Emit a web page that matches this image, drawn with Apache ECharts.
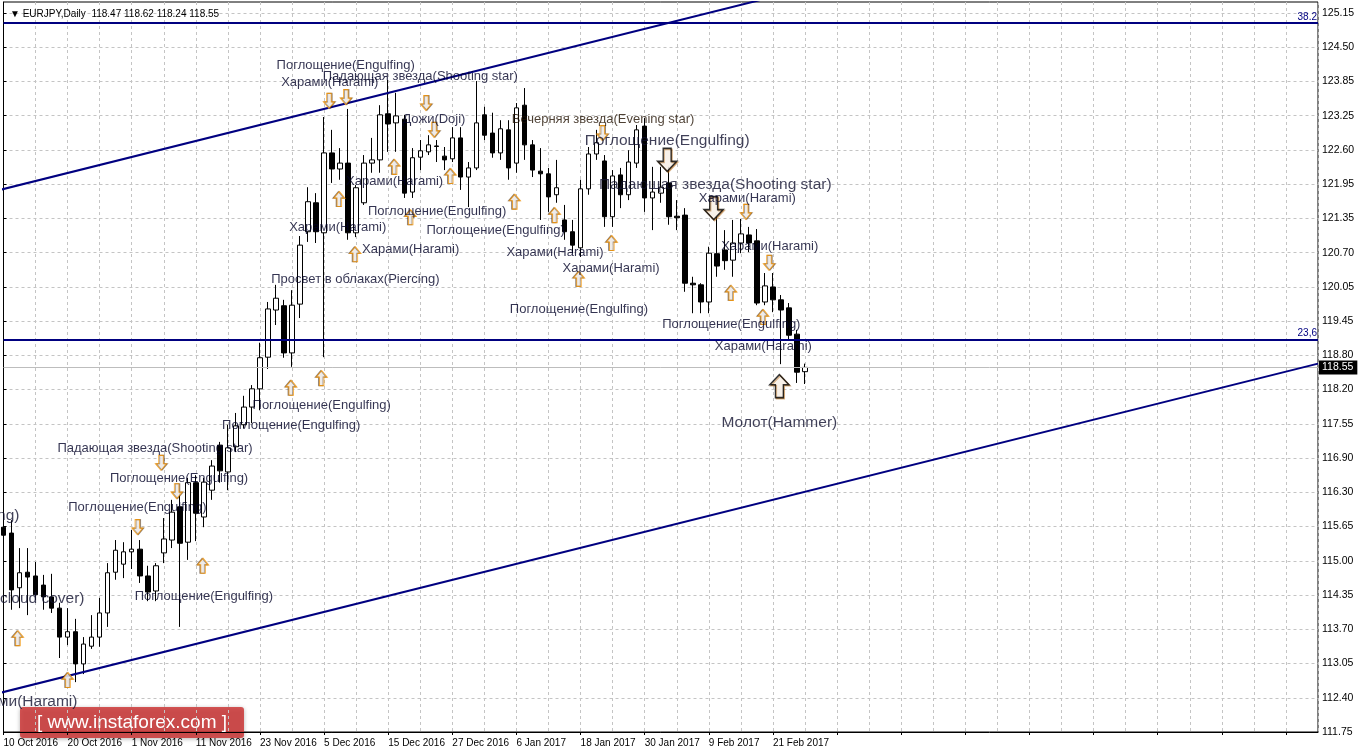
<!DOCTYPE html>
<html><head><meta charset="utf-8">
<script src="https://cdn.jsdelivr.net/npm/echarts@6/dist/echarts.min.js"></script>
<style>html,body{margin:0;padding:0;background:#fff}#c{width:1359px;height:755px}</style>
</head><body><div id="c"></div>
<script>
// ---------- data ----------
const symbolName = 'EURJPY,Daily';
const lastOHLC = ['118.47', '118.62', '118.24', '118.55'];
const dateLabels = ['10 Oct 2016','20 Oct 2016','1 Nov 2016','11 Nov 2016','23 Nov 2016','5 Dec 2016','15 Dec 2016','27 Dec 2016','6 Jan 2017','18 Jan 2017','30 Jan 2017','9 Feb 2017','21 Feb 2017'];
const yTickLabels = ['111.75','112.40','113.05','113.70','114.35','115.00','115.65','116.30','116.90','117.55','118.20','118.80','119.45','120.05','120.70','121.35','121.95','122.60','123.25','123.85','124.50','125.15'];

const opens = [115.57,115.46,114.44,114.73,114.66,114.49,114.27,114.06,113.52,113.62,
113.02,113.35,113.52,113.97,114.73,114.88,115.11,115.16,114.66,114.38,
115.09,115.33,115.95,115.29,116.40,115.76,116.26,117.10,116.60,117.07,
117.48,117.81,118.15,118.74,119.62,119.70,118.82,119.73,121.08,121.62,
121.06,122.55,122.25,122.36,121.06,121.62,122.36,122.42,123.28,123.11,
123.18,121.82,122.47,122.57,122.68,122.49,122.44,122.83,122.10,122.27,
123.26,122.92,122.55,122.98,122.36,123.44,122.70,122.21,122.16,121.77,
121.30,121.08,120.78,121.88,122.53,122.40,121.36,122.14,121.77,122.36,
123.05,121.71,121.80,121.99,121.37,121.39,120.12,120.09,119.77,120.67,
120.74,120.55,120.87,121.02,120.91,119.77,120.05,119.81,119.66,119.17,
118.47];
const closes = [115.42,114.40,114.72,114.64,114.31,114.27,114.06,113.52,113.62,113.02,
113.39,113.52,113.97,114.72,115.14,115.11,115.16,114.66,114.36,114.85,
115.35,115.85,115.27,116.40,115.83,116.41,116.71,116.62,117.05,117.46,
117.81,118.15,118.73,119.64,119.84,118.82,119.71,120.83,121.64,121.08,
122.55,122.25,122.36,121.06,121.90,122.36,122.42,123.26,123.09,123.24,
121.80,122.46,122.59,122.70,122.67,122.42,122.83,122.10,122.27,123.11,
122.88,122.55,123.00,122.27,123.39,122.70,122.23,122.16,121.73,121.90,
121.08,120.83,121.88,122.53,122.74,121.36,122.12,121.77,122.38,122.98,
121.71,121.82,121.91,121.36,121.34,120.12,120.09,119.77,120.68,120.44,
120.54,120.87,121.04,120.87,119.75,120.07,119.81,119.62,119.15,118.46,
118.55];
const lows = [115.09,114.03,114.06,113.93,114.21,114.03,113.97,113.13,113.37,112.68,
112.83,113.30,113.34,113.71,114.59,114.62,114.79,114.53,114.19,114.19,
114.90,115.18,113.71,114.96,115.31,115.57,116.08,116.40,116.26,116.97,
117.42,117.51,117.75,118.52,119.34,118.73,118.56,119.47,120.89,120.87,
118.74,121.99,122.05,120.93,120.98,121.58,122.18,122.18,122.57,122.57,
121.71,121.71,122.23,122.51,122.38,122.23,122.38,121.86,121.54,122.23,
122.79,122.46,122.42,122.05,122.18,122.42,122.10,121.30,121.45,121.62,
120.93,120.68,120.61,121.77,122.42,121.17,121.17,121.52,121.67,122.27,
121.45,121.11,121.62,121.21,121.11,119.96,119.56,119.56,119.56,120.24,
120.37,120.24,120.68,120.70,119.71,119.71,119.58,118.61,119.06,118.26,
118.24];
const highs = [115.74,115.70,115.18,115.18,114.92,114.68,114.70,114.16,114.06,113.86,
113.52,113.93,114.25,114.90,115.33,115.29,115.52,115.33,114.85,114.90,
115.74,116.08,116.21,116.49,116.54,116.49,116.82,117.16,117.48,117.70,
118.02,118.22,119.01,119.77,120.09,119.81,119.99,121.00,121.91,121.80,
123.22,122.98,122.64,123.37,121.95,122.51,122.83,123.44,123.91,123.67,
123.26,122.64,122.79,122.88,122.79,122.66,123.03,123.03,122.38,123.89,
123.41,123.30,123.16,123.16,123.48,123.76,122.79,122.64,122.27,122.42,
121.58,121.30,122.05,122.66,122.98,122.51,122.23,122.27,122.60,123.07,
123.20,122.29,122.29,122.29,121.67,121.52,120.24,120.12,120.80,121.36,
121.11,121.30,121.32,121.17,121.13,120.31,120.31,119.90,119.75,119.25,
118.62];

// trend channel (bar index, price)
const upperChannel = [[-0.44, 121.86], [164, 128.00]];
const lowerChannel = [[-0.44, 112.48], [164, 118.62]];
// horizontal levels
const fibLevels = [['38.2', 124.97], ['23,6', 119.07]];
const lastPrice = 118.55;

// pattern notes: [text, bar, price]
const notesSmall = [
 ['Поглощение(Engulfing)', 42.7, 124.21],
 ['Харами(Harami)', 40.7, 123.91],
 ['Падающая звезда(Shooting star)', 52.0, 124.02],
 ['Дожи(Doji)', 53.7, 123.22],
 ['Харами(Harami)', 48.8, 122.05],
 ['Харами(Harami)', 92.8, 121.73],
 ['Поглощение(Engulfing)', 54.1, 121.50],
 ['Поглощение(Engulfing)', 61.4, 121.15],
 ['Харами(Harami)', 41.7, 121.19],
 ['Харами(Harami)', 50.8, 120.78],
 ['Харами(Harami)', 68.8, 120.74],
 ['Харами(Harami)', 95.6, 120.85],
 ['Харами(Harami)', 75.8, 120.44],
 ['Просвет в облаках(Piercing)', 43.9, 120.22],
 ['Поглощение(Engulfing)', 71.8, 119.66],
 ['Поглощение(Engulfing)', 90.8, 119.38],
 ['Харами(Harami)', 94.8, 118.97],
 ['Поглощение(Engulfing)', 39.7, 117.87],
 ['Поглощение(Engulfing)', 35.9, 117.51],
 ['Падающая звезда(Shooting star)', 18.9, 117.08],
 ['Поглощение(Engulfing)', 21.9, 116.51],
 ['Поглощение(Engulfing)', 16.7, 115.97],
 ['Поглощение(Engulfing)', 25.0, 114.32]
];
const notesEvening = [['Вечерняя звезда(Evening star)', 74.8, 123.22]];
const notesLarge = [
 ['Поглощение(Engulfing)', 82.8, 122.81],
 ['Падающая звезда(Shooting star)', 88.8, 121.99],
 ['Молот(Hammer)', 96.8, 117.55]
];
// notes whose start lies left of the visible window: [text, bar of right end, price]
const notesClipped = [
 ['Поглощение(Engulfing)', 2.06, 115.83],
 ['Завеса из темных облаков(Dark cloud cover)', 10.17, 114.27],
 ['Харами(Harami)', 9.29, 112.35]
];
// arrows: [bar, price]
const arrowsUp = [[1.81,113.50],[8.05,112.72],[24.9,114.85],[35.9,118.17],[39.7,118.35],[41.9,121.69],[43.9,120.66],[48.8,122.29],[50.8,121.35],[55.8,122.12],[63.8,121.64],[68.8,121.39],[71.8,120.20],[75.9,120.87],[90.8,119.94],[94.8,119.49]];
const arrowsDown = [[40.6,123.52],[42.7,123.59],[52.7,123.48],[53.7,122.98],[19.65,116.77],[21.6,116.24],[16.7,115.57],[74.7,122.92],[92.6,121.45],[95.5,120.50]];
const bigArrowsDown = [[82.8,122.42],[88.6,121.52]];
const bigArrowsUp = [[96.8,118.20]];

// ---------- layout ----------
const totalSlots = 165;
const yMin = 111.75, yMax = 125.3645, yStep = 0.63858;
const yTickValues = yTickLabels.map((_, k) => +(yMin + k * yStep).toFixed(5));
const cats = Array.from({length: totalSlots}, (_, i) => String(i));
const candleData = opens.map((o, i) => [o, closes[i], lows[i], highs[i]]);
const navy = '#000080';
const FONT = 'Liberation Sans, Arial, sans-serif';
const arrowPath = 'path://M6,0L12,7L8.5,7L8.5,16L3.5,16L3.5,7L0,7Z';

function noteSeries(list, opts) {
  return {
    type: 'scatter', xAxisIndex: 1, yAxisIndex: 0, silent: true, z: 10,
    symbolSize: 1, itemStyle: {color: 'rgba(0,0,0,0)'},
    data: list.map(n => ({name: n[0], value: [n[1], n[2]]})),
    label: Object.assign({show: true, formatter: '{b}', fontFamily: FONT, offset: [0, 2]}, opts)
  };
}
function arrowSeries(list, size, rot, style) {
  return {
    type: 'scatter', xAxisIndex: 1, yAxisIndex: 0, silent: true, z: 9,
    symbol: arrowPath, symbolSize: size, symbolRotate: rot,
    itemStyle: style, data: list
  };
}

const smallArrowStyle = {color: '#fff', borderColor: '#f39200', borderWidth: 1, shadowColor: 'rgba(60,30,0,0.55)', shadowOffsetX: -1, shadowOffsetY: 0, shadowBlur: 0};
const bigArrowStyle = {color: '#fff', borderColor: '#000', borderWidth: 1.5, shadowColor: 'rgba(170,90,0,0.55)', shadowOffsetX: 1, shadowOffsetY: 1, shadowBlur: 0};

const chart = echarts.init(document.getElementById('c'), null, {renderer: 'canvas'});
chart.setOption({
  animation: false,
  backgroundColor: '#fff',
  title: {
    text: '\u25BC ' + symbolName + '  ' + lastOHLC.join(' '),
    left: 5, top: 4,
    textStyle: {fontSize: 10, fontWeight: 'normal', color: '#000', fontFamily: FONT}
  },
  grid: {left: 3.5, right: 41, top: 2, bottom: 23, show: true, borderColor: '#000', borderWidth: 1, backgroundColor: '#fff'},
  xAxis: [{
    type: 'category', data: cats, boundaryGap: false,
    axisLine: {lineStyle: {color: '#000'}},
    axisTick: {show: true, interval: 7, length: 3, lineStyle: {color: '#000'}},
    axisLabel: {
      interval: 7, align: 'left', margin: 6, color: '#000', fontSize: 10, fontFamily: FONT,
      formatter: (v, idx) => (idx % 8 === 0 && dateLabels[idx / 8]) ? dateLabels[idx / 8] : ''
    },
    splitLine: {show: true, interval: 3, lineStyle: {color: '#c4c4c4', type: [3, 3], width: 1}}
  }, {
    type: 'value', min: 0, max: totalSlots - 1, show: false
  }],
  yAxis: {
    type: 'value', position: 'right', min: yMin, max: yMax, scale: true,
    axisLine: {show: true, lineStyle: {color: '#000'}},
    axisTick: {show: true, length: 3, customValues: yTickValues, lineStyle: {color: '#000'}},
    axisLabel: {
      customValues: yTickValues, margin: 4, color: '#000', fontSize: 10.5, fontFamily: FONT,
      formatter: v => { const k = Math.round((v - yMin) / yStep); return yTickLabels[k] || ''; }
    },
    splitLine: {show: true, lineStyle: {color: '#c4c4c4', type: [3, 3], width: 1}}
  },
  series: [
    {
      type: 'candlestick', xAxisIndex: 0, yAxisIndex: 0, data: candleData, barWidth: 5, z: 3,
      itemStyle: {color: '#fff', color0: '#000', borderColor: '#000', borderColor0: '#000', borderWidth: 1},
      markLine: {
        silent: true, symbol: ['none', 'none'], animation: false,
        data: fibLevels.map(f => ({
          yAxis: f[1],
          lineStyle: {color: navy, width: 2, type: 'solid'},
          label: {show: true, formatter: f[0], position: 'insideEndTop', color: navy, fontSize: 10, fontFamily: FONT, distance: [1, 1]}
        })).concat([{
          yAxis: lastPrice,
          lineStyle: {color: '#bdbdbd', width: 1, type: 'solid'},
          label: {show: true, formatter: lastOHLC[3], position: 'end', distance: 1, color: '#fff', backgroundColor: '#000', padding: [2, 4, 1, 3], fontSize: 10.5, fontFamily: FONT}
        }])
      }
    },
    {type: 'line', xAxisIndex: 1, yAxisIndex: 0, data: upperChannel, symbol: 'none', clip: true, silent: true, z: 5, lineStyle: {color: navy, width: 2}},
    {type: 'line', xAxisIndex: 1, yAxisIndex: 0, data: lowerChannel, symbol: 'none', clip: true, silent: true, z: 5, lineStyle: {color: navy, width: 2}},
    arrowSeries(arrowsUp, [11, 15], 0, smallArrowStyle),
    arrowSeries(arrowsDown, [11, 15], 180, Object.assign({}, smallArrowStyle, {shadowOffsetX: 1})),
    arrowSeries(bigArrowsDown, [19, 23], 180, bigArrowStyle),
    arrowSeries(bigArrowsUp, [19, 23], 0, bigArrowStyle),
    noteSeries(notesSmall, {position: 'inside', fontSize: 13, color: '#000026'}),
    noteSeries(notesEvening, {position: 'inside', fontSize: 13, color: '#201000'}),
    noteSeries(notesLarge, {position: 'inside', fontSize: 15.5, color: '#10102e'}),
    noteSeries(notesClipped, {position: 'left', distance: 0, fontSize: 15.5, color: '#10102e'})
  ],
  graphic: [{
    type: 'group', left: 20, top: 707, z: 100,
    children: [
      {type: 'rect', shape: {x: 0, y: 0, width: 224, height: 31, r: 3}, style: {fill: 'rgba(205,50,50,0.82)', shadowColor: 'rgba(0,0,0,0.35)', shadowBlur: 4, shadowOffsetY: 1}},
      {type: 'text', x: 112, y: 16, style: {text: '[ www.instaforex.com ]', fill: '#fff', font: '19px Liberation Sans, Arial, sans-serif', align: 'center', verticalAlign: 'middle'}}
    ]
  }]
});
</script>
</body></html>
